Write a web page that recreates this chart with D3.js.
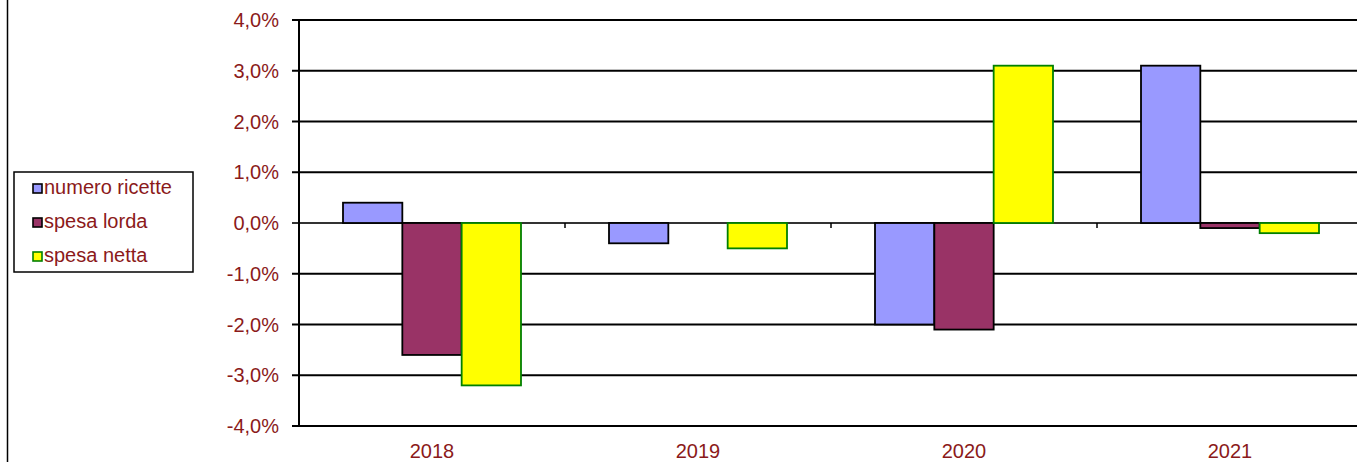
<!DOCTYPE html>
<html lang="it">
<head>
<meta charset="UTF-8">
<title>Variazioni ricette e spesa</title>
<style>
  body { margin: 0; background: #ffffff; }
  svg { display: block; font-family: 'Liberation Sans', Arial, sans-serif; }
  .lbl { fill: #8b1a1a; font-size: 20px; }
</style>
</head>
<body>
<svg width="1357" height="462"></svg>
<script src="https://d3js.org/d3.v7.min.js"></script>
<script>
  // data (percent change)
  const years = ["2018", "2019", "2020", "2021"];
  const series = ["numero ricette", "spesa lorda", "spesa netta"];
  const numeroRicette = [0.4, -0.4, -2.0, 3.1];
  const spesaLorda = [-2.6, 0.0, -2.1, -0.1];
  const spesaNetta = [-3.2, -0.5, 3.1, -0.2];
  const yTicks = [-4, -3, -2, -1, 0, 1, 2, 3, 4];

  const fills = ["#9999ff", "#993366", "#ffff00"];
  const strokes = ["#000000", "#000000", "#008000"];
  const values = [numeroRicette, spesaLorda, spesaNetta];

  const svg = d3.select("svg");
  const plotL = 299, plotR = 1363, plotT = 20, plotB = 426;

  const y = d3.scaleLinear().domain([-4, 4]).range([plotB, plotT]);
  const x0 = d3.scaleBand().domain(years).range([plotL, plotR]);
  const x1 = d3.scaleBand().domain(series).range([44, x0.bandwidth() - 44]);

  // outer frame line on the left
  svg.append("line").attr("x1", 7.5).attr("x2", 7.5).attr("y1", 0).attr("y2", 462)
    .attr("stroke", "#000").attr("stroke-width", 1.5);

  // gridlines
  svg.append("g").selectAll("line").data(yTicks).join("line")
    .attr("x1", plotL - 7).attr("x2", 1357)
    .attr("y1", d => y(d)).attr("y2", d => y(d))
    .attr("stroke", d => d === 0 ? "#333" : "#000")
    .attr("stroke-width", 2);

  // y labels
  const fmt = d => d3.format(".1f")(d).replace(".", ",").replace("−", "-") + "%";
  svg.append("g").selectAll("text").data(yTicks).join("text")
    .attr("class", "lbl")
    .attr("x", 279).attr("y", d => y(d) + 7)
    .attr("text-anchor", "end")
    .text(fmt);

  // bars
  const rows = [];
  years.forEach((yr, i) => series.forEach((s, j) => rows.push({ yr, s, j, v: values[j][i] })));
  svg.append("g").selectAll("rect").data(rows.filter(d => d.v !== 0)).join("rect")
    .attr("x", d => x0(d.yr) + x1(d.s))
    .attr("width", x1.bandwidth())
    .attr("y", d => y(Math.max(0, d.v)))
    .attr("height", d => Math.abs(y(d.v) - y(0)))
    .attr("fill", d => fills[d.j])
    .attr("stroke", d => strokes[d.j])
    .attr("stroke-width", 1.8);

  // axes lines
  svg.append("line").attr("x1", plotL).attr("x2", plotL).attr("y1", plotT).attr("y2", plotB)
    .attr("stroke", "#000").attr("stroke-width", 2);
  svg.append("line").attr("x1", plotL).attr("x2", 1357).attr("y1", plotB).attr("y2", plotB)
    .attr("stroke", "#000").attr("stroke-width", 2);

  // category ticks on zero line
  svg.append("g").selectAll("line").data(years.slice(1)).join("line")
    .attr("x1", d => x0(d)).attr("x2", d => x0(d))
    .attr("y1", y(0)).attr("y2", y(0) + 5)
    .attr("stroke", "#000").attr("stroke-width", 1.5);

  // x labels
  svg.append("g").selectAll("text").data(years).join("text")
    .attr("class", "lbl")
    .attr("x", d => x0(d) + x0.bandwidth() / 2)
    .attr("y", 458)
    .attr("text-anchor", "middle")
    .text(d => d);

  // legend
  const lg = svg.append("g");
  lg.append("rect").attr("x", 14).attr("y", 172).attr("width", 179).attr("height", 100)
    .attr("fill", "#fff").attr("stroke", "#000").attr("stroke-width", 1.5);
  series.forEach((s, j) => {
    const cy = 188 + j * 34;
    lg.append("rect").attr("x", 33).attr("y", cy - 4).attr("width", 9).attr("height", 9)
      .attr("fill", fills[j]).attr("stroke", strokes[j]).attr("stroke-width", 1.6);
    lg.append("text").attr("class", "lbl").attr("x", 44).attr("y", cy + 6).text(s);
  });
</script>
</body>
</html>
